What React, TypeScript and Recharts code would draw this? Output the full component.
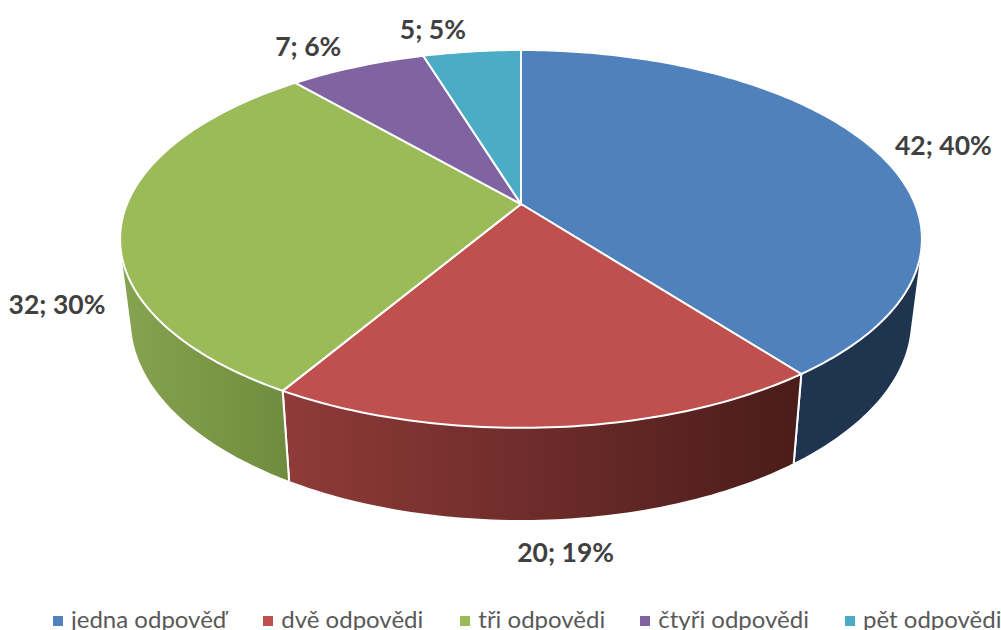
import React from 'react';
import { PieChart, Pie, Cell, Legend } from 'recharts';

const CATEGORIES = ['jedna odpověď', 'dvě odpovědi', 'tři odpovědi', 'čtyři odpovědi', 'pět odpovědi'];
const COUNTS = [42, 20, 32, 7, 5];
const PERCENTS = [40, 19, 30, 6, 5];

const COLORS = ['#4f81bd', '#c0504d', '#9bbb59', '#8064a2', '#4bacc6'];
const WALL_FILLS = ['#1e344f', 'url(#wallRed)', 'url(#wallGreen)', '#4d3c62', '#2d6776'];

// label offset from the rim point at the middle of each slice
const LABEL_OFFSETS = [[70, -4], [16, 125], [-65, 84], [-49, -21], [-39, -22]];
const LEGEND_GAPS = [37, 37, 35, 36, 0];

const data = CATEGORIES.map((name, i) => ({ name, value: COUNTS[i], percent: PERCENTS[i] }));

// perspective for the disc: top face and the smaller bottom rim
const TILT = -0.185;
const TOP = { a: 144.7, b: 204, k: 1 };
const BOTTOM = { a: 140.3, b: 283.5, k: 0.973 };

const project = (angle: number, cx: number, r: number, f: { a: number; b: number; k: number }) => {
  const rad = ((90 - angle) * Math.PI) / 180;
  const u = Math.sin(rad);
  const v = -Math.cos(rad);
  const w = 1 + TILT * v;
  return { x: cx + (r * f.k * u) / w, y: (f.a * v + f.b) / w };
};

const arc = (start: number, end: number) => {
  const steps = Math.max(2, Math.ceil(Math.abs(end - start)));
  const out: number[] = [];
  for (let i = 0; i <= steps; i++) out.push(start + ((end - start) * i) / steps);
  return out;
};

const TopSector = (props: any) => {
  const { cx, outerRadius, startAngle, endAngle, fill } = props;
  const pts = arc(startAngle, endAngle).map((a) => project(a, cx, outerRadius, TOP));
  const d = `M${cx},${TOP.b} ` + pts.map((p) => `L${p.x},${p.y}`).join(' ') + ' Z';
  return <path d={d} fill={fill} stroke="#fff" strokeWidth={2} strokeLinejoin="round" />;
};

const WallSector = (props: any) => {
  const { cx, outerRadius, startAngle, endAngle, fill } = props;
  const angles = arc(startAngle, endAngle);
  let d = '';
  for (let i = 0; i < angles.length - 1; i++) {
    const q = [
      project(angles[i], cx, outerRadius, TOP),
      project(angles[i + 1], cx, outerRadius, TOP),
      project(angles[i + 1], cx, outerRadius, BOTTOM),
      project(angles[i], cx, outerRadius, BOTTOM),
    ];
    // same winding for every quad, or the nonzero fill cancels at the silhouette
    let area = 0;
    q.forEach((p, j) => {
      const n = q[(j + 1) % 4];
      area += p.x * n.y - n.x * p.y;
    });
    if (area < 0) q.reverse();
    d += `M${q[0].x},${q[0].y} L${q[1].x},${q[1].y} L${q[2].x},${q[2].y} L${q[3].x},${q[3].y} Z `;
  }
  const edge = (a: number) => {
    const t = project(a, cx, outerRadius, TOP);
    const b = project(a, cx, outerRadius, BOTTOM);
    return `M${t.x},${t.y} L${b.x},${b.y} `;
  };
  return (
    <g>
      <path d={d} fill={fill} />
      <path d={edge(startAngle) + edge(endAngle)} stroke="#fff" strokeWidth={2} fill="none" />
    </g>
  );
};

const renderLabel = (props: any) => {
  const { cx, outerRadius, midAngle, index } = props;
  const rim = project(midAngle, cx, outerRadius, TOP);
  const [dx, dy] = LABEL_OFFSETS[index];
  return (
    <text
      x={rim.x + dx}
      y={rim.y + dy}
      textAnchor="middle"
      dominantBaseline="central"
      fontFamily="Lato"
      fontWeight={700}
      fontSize={26.5}
      fill="#404040"
    >
      {`${COUNTS[index]}; ${PERCENTS[index]}%`}
    </text>
  );
};

const LegendRow = () => (
  <div style={{ display: 'flex', fontFamily: 'Lato', fontSize: 24, color: '#595959', lineHeight: '30px', whiteSpace: 'nowrap' }}>
    {CATEGORIES.map((name, i) => (
      <div key={name} style={{ display: 'flex', alignItems: 'center', marginRight: LEGEND_GAPS[i] }}>
        <span style={{ width: 10, height: 10, background: COLORS[i], marginRight: 8, marginTop: 4 }} />
        {name}
      </div>
    ))}
  </div>
);

export default function App() {
  return (
    <div style={{ position: 'absolute', left: 0, top: 0, width: 1001, height: 630, overflow: 'hidden', background: '#fff' }}>
      <PieChart width={1001} height={630} margin={{ top: 0, right: 0, bottom: 0, left: 0 }}>
        <defs>
          <linearGradient id="wallRed" gradientUnits="userSpaceOnUse" x1="283" y1="0" x2="800" y2="0">
            <stop offset="0" stopColor="#8f3b39" />
            <stop offset="1" stopColor="#4a1c1a" />
          </linearGradient>
          <linearGradient id="wallGreen" gradientUnits="userSpaceOnUse" x1="122" y1="0" x2="285" y2="0">
            <stop offset="0" stopColor="#86a350" />
            <stop offset="1" stopColor="#708c3e" />
          </linearGradient>
        </defs>
        <Pie
          data={data}
          dataKey="value"
          cx={521}
          cy={204}
          outerRadius={394}
          startAngle={90}
          endAngle={-270}
          legendType="none"
          shape={WallSector}
          isAnimationActive={false}
        >
          {data.map((d, i) => (
            <Cell key={d.name} fill={WALL_FILLS[i]} />
          ))}
        </Pie>
        <Pie
          data={data}
          dataKey="value"
          cx={521}
          cy={204}
          outerRadius={394}
          startAngle={90}
          endAngle={-270}
          shape={TopSector}
          label={renderLabel}
          labelLine={false}
          isAnimationActive={false}
        >
          {data.map((d, i) => (
            <Cell key={d.name} fill={COLORS[i]} />
          ))}
        </Pie>
        <Legend content={LegendRow} wrapperStyle={{ left: 53, top: 604, width: 960, bottom: 'auto' }} />
      </PieChart>
    </div>
  );
}
